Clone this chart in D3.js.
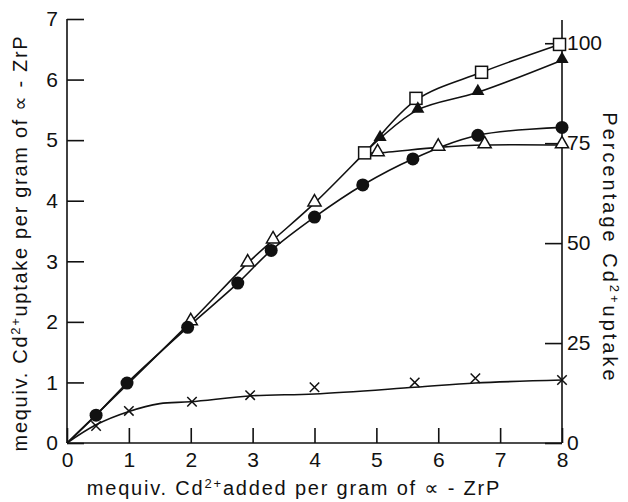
<!DOCTYPE html>
<html>
<head>
<meta charset="utf-8">
<script src="https://cdn.jsdelivr.net/npm/d3@7"></script>
<style>
  body { margin:0; background:#fff; }
  svg { display:block; }
  text { font-family: "Liberation Sans", "DejaVu Sans", sans-serif; fill:#111; }
</style>
</head>
<body>
<svg id="chart" width="628" height="502"></svg>
<script>
// values (x = mequiv added, y = mequiv uptake)
var xTicks=[0,1,2,3,4,5,6,7,8];
var yTicks=[0,1,2,3,4,5,6,7];
var pctTicks=[0,25,50,75,100];

var circleX=[0.47,0.97,1.95,2.76,3.3,4.0,4.78,5.59,6.64,8.0];
var circleY=[0.46,0.99,1.91,2.64,3.18,3.73,4.26,4.69,5.08,5.21];

var openTriX=[2.0,2.92,3.33,4.0,5.02,6.0,6.75,8.0];
var openTriY=[2.0,2.97,3.35,3.96,4.79,4.88,4.92,4.92];

var squareX=[4.81,5.64,6.7,7.96];
var squareY=[4.79,5.69,6.12,6.58];

var filledTriX=[5.06,5.67,6.64,8.0];
var filledTriY=[5.03,5.5,5.79,6.32];

var crossX=[0.47,1.0,2.02,2.96,4.0,5.62,6.6,8.0];
var crossY=[0.28,0.53,0.68,0.79,0.92,1.0,1.07,1.04];

// drawn curves
var circleLineX=[0,0.47,0.97,1.95,2.76,3.3,4.0,4.78,5.59,6.64,8.0];
var circleLineY=[0,0.46,0.99,1.91,2.64,3.18,3.73,4.26,4.69,5.08,5.21];
var squareLineX=[0,2.0,2.92,3.33,4.0,4.81,5.64,6.7,7.96];
var squareLineY=[0,2.0,2.97,3.35,3.96,4.79,5.66,6.12,6.58];
var openTriLineX=[4.81,5.02,6.0,6.75,8.0];
var openTriLineY=[4.79,4.79,4.88,4.92,4.92];
var filledTriLineX=[4.81,5.06,5.67,6.64,8.0];
var filledTriLineY=[4.79,5.03,5.5,5.79,6.32];
var crossLineX=[0,0.47,1.0,1.5,2.0,3.0,4.0,5.62,6.6,8.0];
var crossLineY=[0,0.3,0.52,0.65,0.68,0.78,0.81,0.92,0.99,1.04];

var pctOfMax=6.6; // 100 % on the right axis

var svg=d3.select("#chart");
var x=d3.scaleLinear().domain([0,8]).range([67,562]);
var y=d3.scaleLinear().domain([0,7]).range([443,19]);
var yPct=d3.scaleLinear().domain([0,100]).range([y(0),y(pctOfMax)]);

function zip(a,b){ return a.map(function(v,i){ return [v,b[i]]; }); }

// frame lines
var frame=svg.append("g").attr("stroke","#111").attr("stroke-width",1.6);
frame.append("line").attr("x1",x(0)).attr("x2",x(0)).attr("y1",y(0)).attr("y2",y(7));
frame.append("line").attr("x1",x(0)).attr("x2",x(8)).attr("y1",y(0)).attr("y2",y(0));
frame.append("line").attr("x1",x(8)).attr("x2",x(8)).attr("y1",y(0)).attr("y2",y(7)+1);

function styleAxis(g){
  g.select(".domain").remove();
  g.selectAll(".tick line").attr("stroke","#111").attr("stroke-width",1.6);
  g.selectAll(".tick text").style("font-size","21px").attr("fill","#111");
}

svg.append("g").attr("transform","translate("+x(0)+",0)")
   .call(d3.axisLeft(y).tickValues(yTicks).tickSize(-17).tickPadding(9).tickFormat(d3.format("d")))
   .call(styleAxis);
svg.append("g").attr("transform","translate(0,"+y(0)+")")
   .call(d3.axisBottom(x).tickValues(xTicks).tickSize(-15).tickPadding(9).tickFormat(d3.format("d")))
   .call(styleAxis);
svg.append("g").attr("transform","translate("+x(8)+",0)")
   .call(d3.axisRight(yPct).tickValues(pctTicks).tickSize(-17).tickPadding(5).tickFormat(d3.format("d")))
   .call(styleAxis);

// curves
var line=d3.line().x(function(d){return x(d[0]);}).y(function(d){return y(d[1]);})
           .curve(d3.curveCatmullRom.alpha(0.5));
var curves=[zip(circleLineX,circleLineY),zip(squareLineX,squareLineY),zip(openTriLineX,openTriLineY),
            zip(filledTriLineX,filledTriLineY),zip(crossLineX,crossLineY)];
svg.append("g").selectAll("path").data(curves).enter().append("path")
   .attr("d",line).attr("fill","none").attr("stroke","#111").attr("stroke-width",1.6);

// markers
var mk=svg.append("g");
mk.selectAll(".sq").data(zip(squareX,squareY)).enter().append("rect")
  .attr("x",function(d){return x(d[0])-6;}).attr("y",function(d){return y(d[1])-6;})
  .attr("width",12).attr("height",12).attr("fill","#fff").attr("stroke","#111").attr("stroke-width",1.5);
var tri=d3.symbol().type(d3.symbolTriangle).size(75);
mk.selectAll(".ot").data(zip(openTriX,openTriY)).enter().append("path")
  .attr("d",tri).attr("transform",function(d){return "translate("+x(d[0])+","+(y(d[1])-1)+")";})
  .attr("fill","#fff").attr("stroke","#111").attr("stroke-width",1.5);
mk.selectAll(".ft").data(zip(filledTriX,filledTriY)).enter().append("path")
  .attr("d",tri).attr("transform",function(d){return "translate("+x(d[0])+","+(y(d[1])-1)+")";})
  .attr("fill","#111");
mk.selectAll(".ci").data(zip(circleX,circleY)).enter().append("circle")
  .attr("cx",function(d){return x(d[0]);}).attr("cy",function(d){return y(d[1]);})
  .attr("r",6.5).attr("fill","#111");
var cr=d3.symbol().type(d3.symbolX).size(60);
mk.selectAll(".cr").data(zip(crossX,crossY)).enter().append("path")
  .attr("d",cr).attr("transform",function(d){return "translate("+x(d[0])+","+y(d[1])+")";})
  .attr("fill","none").attr("stroke","#111").attr("stroke-width",1.5);

// axis titles
function title(tx,parts){
  parts.forEach(function(p){
    var s=tx.append("tspan").text(p[0]);
    if(p[1]) s.attr("baseline-shift","super").style("font-size","13px");
  });
}
var lt=svg.append("text").attr("transform","translate(27,243) rotate(-90)")
  .attr("text-anchor","middle").style("font-size","20px").style("letter-spacing","1.7px");
title(lt,[["mequiv. Cd"],["2+",1],["uptake per gram of \u221d - ZrP"]]);

var bt=svg.append("text").attr("x",294).attr("y",495)
  .attr("text-anchor","middle").style("font-size","20px").style("letter-spacing","1.8px");
title(bt,[["mequiv. Cd"],["2+",1],["added per gram of \u221d - ZrP"]]);

var rt=svg.append("text").attr("transform","translate(603,248) rotate(90)")
  .attr("text-anchor","middle").style("font-size","20px").style("letter-spacing","3px");
title(rt,[["Percentage Cd"],["2+",1],["uptake"]]);
</script>
</body>
</html>
